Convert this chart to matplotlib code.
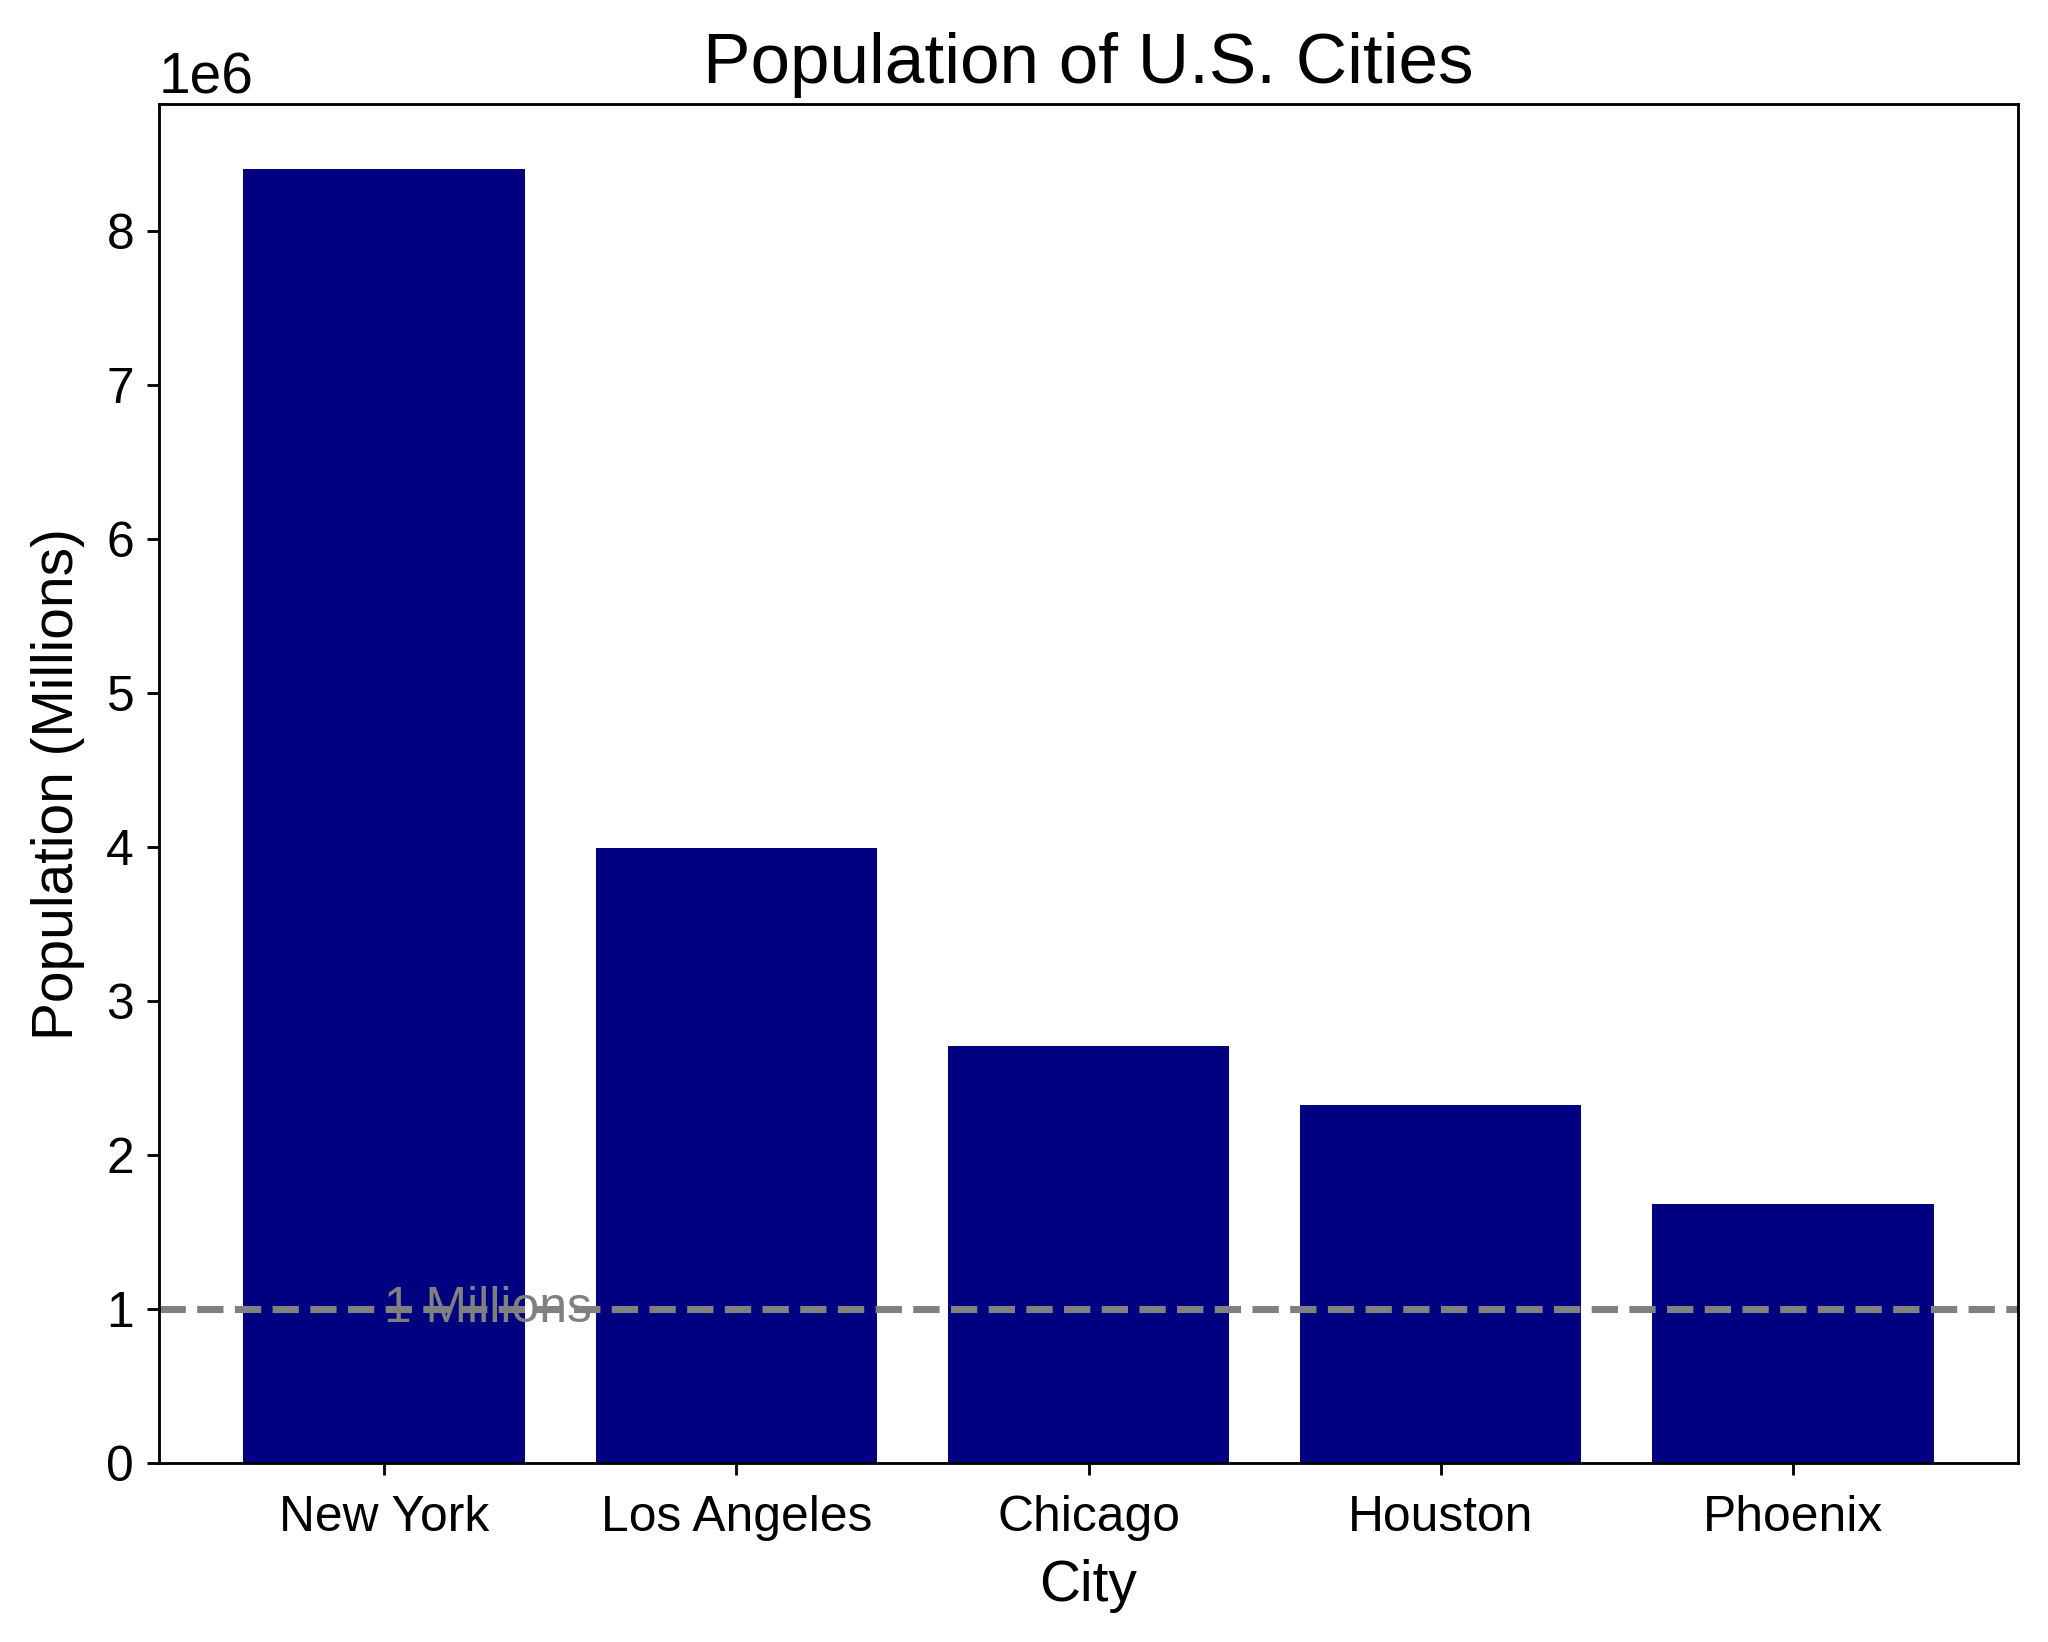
import matplotlib

matplotlib.use("Agg")

import matplotlib.pyplot as plt  # noqa: E402

plt.rcParams["font.family"] = ["Liberation Sans", "DejaVu Sans"]

cities = ["New York", "Los Angeles", "Chicago", "Houston", "Phoenix"]
population = [8398748, 3990456, 2705994, 2325502, 1680992]
threshold = 1_000_000

fig, ax = plt.subplots(figsize=(2048 / 256, 1642 / 256), dpi=256)
fig.subplots_adjust(left=0.0776, right=0.9854, top=0.9364, bottom=0.109)

ax.bar(cities, population, color="navy")
ax.axhline(threshold, color="gray", linestyle="--", linewidth=2)
ax.text(0, threshold, "1 Millions", color="gray", fontsize=14, va="center")

ax.set_title("Population of U.S. Cities", fontsize=20)
ax.set_xlabel("City", fontsize=16, labelpad=5)
ax.set_ylabel("Population (Millions)", fontsize=16, labelpad=6)
ax.tick_params(labelsize=14)
ax.tick_params(axis="x", pad=5.5)
ax.yaxis.get_offset_text().set_fontsize(16)

fig.savefig("out.png", dpi=256)
